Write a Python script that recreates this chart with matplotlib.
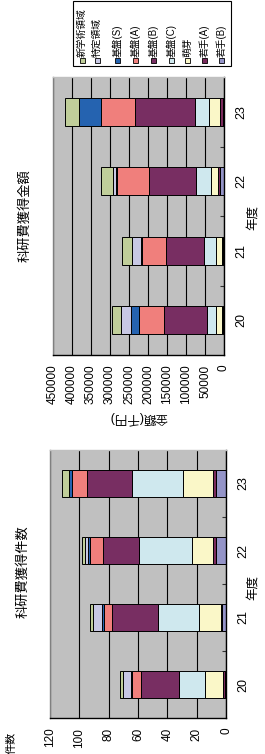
import matplotlib
matplotlib.use("Agg")
import matplotlib.pyplot as plt
from matplotlib.patches import Rectangle
import numpy as np

plt.rcParams["font.family"] = ["Liberation Sans", "Noto Sans CJK JP"]

# --- data (stack order from the value axis outward) ---
years = ["20", "21", "22", "23"]
series = ["若手(B)", "若手(A)", "萌芽", "基盤(C)", "基盤(B)",
          "基盤(A)", "基盤(S)", "特定領域", "新学術領域"]
colors = ["#9494C8", "#7A2A5C", "#FAF7C8", "#CFE8EE", "#782E62",
          "#F07F7C", "#2563B0", "#C8C8E4", "#C0CE9A"]

# counts per year, same order as `series`
count_20 = [1, 1, 12, 18, 26, 6, 1, 5, 2]
count_21 = [2.5, 1, 15, 28, 31, 6, 1, 6, 2]
count_22 = [7, 2, 14, 36, 25, 9, 1, 2, 2]
count_23 = [7, 2, 20, 35, 31, 10, 2, 0, 5]

# amounts (千円) per year, same order as `series`
amount_20 = [1500, 5000, 14000, 24000, 114000, 65000, 21000, 26000, 25000]
amount_21 = [2000, 3000, 17000, 31700, 99500, 61600, 2500, 24700, 27400]
amount_22 = [9700, 6100, 19400, 38700, 122400, 86300, 2000, 6800, 32600]
amount_23 = [2600, 7100, 30800, 37000, 157500, 88000, 58200, 0, 36900]

W, H = 265, 754
fig = plt.figure(figsize=(W / 100, H / 100), dpi=100)


def axes_px(x0, y0, x1, y1):
    return fig.add_axes([x0 / W, 1 - y1 / H, (x1 - x0) / W, (y1 - y0) / H])


def draw(ax, rows, vmax, step):
    data = np.array(rows, dtype=float)
    ypos = np.arange(len(years))
    ax.set_facecolor("#C0C0C0")
    left = np.zeros(len(years))
    for i, name in enumerate(series):
        vals = data[:, i]
        ax.barh(ypos, vals, left=left, height=0.4, color=colors[i],
                edgecolor="black", linewidth=0.7, zorder=3)
        left += vals
    ax.set_xlim(vmax, 0)
    ax.set_ylim(-0.5, len(years) - 0.5)
    ticks = np.arange(0, vmax + 1, step)
    ax.set_xticks(ticks)
    ax.set_xticklabels([str(int(t)) for t in ticks], rotation=90,
                       va="top", ha="center", fontsize=8.5)
    ax.grid(axis="x", color="black", lw=0.8, zorder=0)
    ax.set_axisbelow(True)
    ax.tick_params(axis="x", length=0, pad=7)
    ax.yaxis.tick_right()
    ax.set_yticks(ypos)
    ax.set_yticklabels(years, rotation=90, va="center", fontsize=9)
    ax.set_yticks(ypos[:-1] + 0.5, minor=True)
    ax.tick_params(axis="y", which="major", length=0, pad=8)
    ax.tick_params(axis="y", which="minor", direction="in", length=3,
                   width=0.8, color="#333333")
    ax.spines["bottom"].set_color("black")
    ax.spines["right"].set_color("black")
    ax.spines["left"].set_color("#808080")
    ax.spines["top"].set_color("#C0C0C0")
    for s in ax.spines.values():
        s.set_linewidth(1.0)
        s.set_zorder(4)


# amount chart (top)
ax1 = axes_px(53, 77, 224, 355)
draw(ax1, [amount_20, amount_21, amount_22, amount_23], 450000, 50000)
fig.text(25 / W, 1 - 216 / H, "科研費獲得金額", rotation=90,
         ha="center", va="center", fontsize=9.5)
fig.text(253 / W, 1 - 218 / H, "年度", rotation=90,
         ha="center", va="center", fontsize=9)
fig.text(138 / W, 1 - 418 / H, "金額(千円)", rotation=180,
         ha="center", va="center", fontsize=9)

# count chart (bottom)
ax2 = axes_px(50, 450, 226, 718)
draw(ax2, [count_20, count_21, count_22, count_23], 120, 20)
fig.text(23 / W, 1 - 572 / H, "科研費獲得件数", rotation=90,
         ha="center", va="center", fontsize=9.5)
fig.text(253 / W, 1 - 588 / H, "年度", rotation=90,
         ha="center", va="center", fontsize=9)
fig.text(12 / W, 1 - 743 / H, "件数", rotation=90,
         ha="center", va="center", fontsize=8)

# legend (rotated, drawn by hand)
fig.patches.append(Rectangle((73 / W, 1 - 66 / H), 158 / W, 65 / H,
                             transform=fig.transFigure, facecolor="white",
                             edgecolor="black", linewidth=0.8))
key_x = [82, 97, 117, 135, 153, 171, 187, 204, 221]
for kx, name, col in zip(key_x, series[::-1], colors[::-1]):
    fig.patches.append(Rectangle(((kx - 2.5) / W, 1 - 62.5 / H), 5 / W, 5 / H,
                                 transform=fig.transFigure, facecolor=col,
                                 edgecolor="black", linewidth=0.6))
    fig.text(kx / W, 1 - 57 / H, name, rotation=90,
             ha="center", va="bottom", fontsize=7)

fig.savefig("out.png", dpi=100)
